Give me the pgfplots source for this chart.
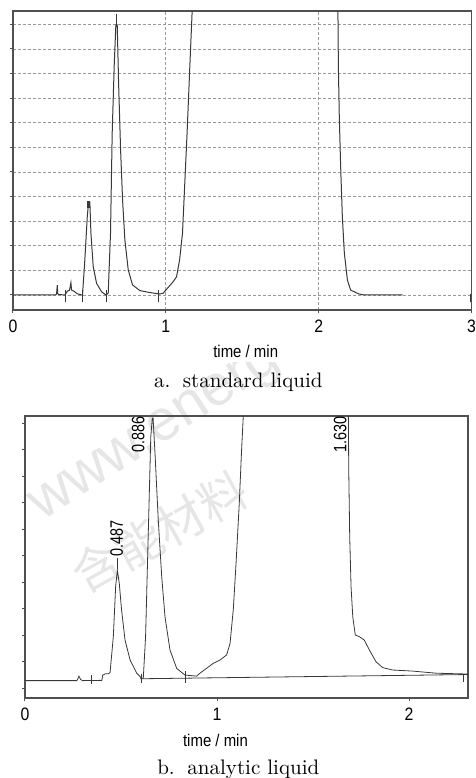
\documentclass[border=0pt]{standalone}
\usepackage{fontspec}
\usepackage{pgfplots}
\pgfplotsset{compat=1.18}

\newfontfamily\narrowsans[FakeStretch=0.88]{Liberation Sans}
\newfontfamily\peaksans[FakeStretch=0.8]{Liberation Sans}
\newfontfamily\wmsans{Liberation Sans}
\newfontfamily\wmcjk{Noto Sans CJK SC}

\definecolor{framec}{HTML}{505050}
\definecolor{trace}{HTML}{383838}
\definecolor{gridc}{HTML}{9A9A9A}
\definecolor{wm}{HTML}{E6E6E6}

\pgfplotsset{
  chrom/.style={
    scale only axis,
    anchor=north west,
    axis line style={framec, line width=0.6pt},
    tick style={framec, line width=0.5pt},
    major tick length=1.6pt,
    tick align=outside,
    xtick pos=bottom,
    ytick pos=left,
    yticklabels={},
    ticklabel style={font=\narrowsans\fontsize{9}{10}\selectfont},
    /pgf/number format/assume math mode=true,
    xlabel={time / min},
    label style={font=\narrowsans\fontsize{8.5}{10}\selectfont},
  },
}

\begin{document}
\begin{tikzpicture}
\useasboundingbox (0,0) rectangle (238pt,-389pt);

% watermark, only below the upper panel
\begin{scope}
\clip (0,-181pt) rectangle (238pt,-389pt);
\node[wm, rotate=33, anchor=base west, inner sep=0pt, font=\wmsans\fontsize{29}{31}\selectfont]
  at (21pt,-261pt) {www.energ};
\node[wm, rotate=29, anchor=center, inner sep=0pt, font=\wmcjk\fontsize{24}{26}\selectfont]
  at (80pt,-266pt) {含能材料};
\end{scope}

% a. standard liquid
\begin{axis}[chrom,
  at={(6.5pt,-5.5pt)},
  width=229.25pt, height=149.5pt,
  xmin=0, xmax=3, ymin=-0.61, ymax=11.54,
  xtick={0,1,2,3}, ytick={0,...,11},
  xmajorgrids, ymajorgrids,
  grid style={gridc, line width=0.4pt, dash pattern=on 1.5pt off 1pt},
  x label style={at={(axis description cs:0.5075,0)}, anchor=center, yshift=-20.85pt},
]
\addplot[trace, line width=0.5pt] coordinates {
  (0,0) (0.28,0) (0.285,0.05) (0.29,0.4) (0.293,0.05) (0.30,0.02) (0.34,0.0)
  (0.355,0.15) (0.37,0.2) (0.379,0.5) (0.383,0.2) (0.40,0.15) (0.42,0.05) (0.45,0.0)
  (0.455,0.02) (0.47,1.42) (0.486,3.18) (0.494,3.75) (0.503,3.75) (0.51,2.5)
  (0.525,1.15) (0.547,0.47) (0.58,0.13) (0.608,0.0) (0.623,0.07) (0.638,2.5)
  (0.649,6.57) (0.662,9.28) (0.673,10.98) (0.682,10.98) (0.691,8.6) (0.704,5.9)
  (0.717,3.86) (0.732,2.24) (0.754,1.02) (0.782,0.41) (0.83,0.18) (0.895,0.1)
  (0.96,0.04) (0.982,0.07) (1.048,0.54) (1.07,0.74) (1.09,1.42) (1.109,2.51)
  (1.124,4.54) (1.139,6.57) (1.157,9.28) (1.172,11.5) (1.19,14) (2.12,14)
  (2.126,11.55) (2.129,9.27) (2.135,7.24) (2.144,5.2) (2.155,3.17) (2.168,1.71)
  (2.188,0.61) (2.209,0.2) (2.264,0.04) (2.3,0) (2.55,0)
};
% peak apex markers and integration ticks
\addplot[trace, line width=1.2pt] coordinates {(0.494,3.55) (0.494,3.8)};
\addplot[trace, line width=0.4pt, unbounded coords=jump] coordinates {
  (0.678,10.9) (0.678,11.4) (0.678,nan)
  (0.344,0.2) (0.344,-0.27) (0.344,nan)
  (0.453,0.2) (0.453,-0.27) (0.453,nan)
  (0.612,0.2) (0.612,-0.27) (0.612,nan)
  (0.954,0.2) (0.954,-0.27) (0.954,nan)
  (2.99,0.05) (2.99,-0.3)
};
\end{axis}
\node[anchor=base, inner sep=0pt, font=\fontsize{10.5}{12}\selectfont]
  at (119.15pt,-193.85pt) {a.\hspace{0.6em}standard liquid};

% b. analytic liquid
\begin{axis}[chrom,
  at={(12.5pt,-208pt)},
  width=221.5pt, height=141pt,
  xmin=0, xmax=2.307, ymin=-0.366, ymax=10.275,
  xtick={0,1,2}, ytick={0,...,10},
  x label style={at={(axis description cs:0.43,0)}, anchor=center, yshift=-21pt},
]
\addplot[trace, line width=0.4pt] coordinates {
  (0,0.29) (0.27,0.29) (0.275,0.35) (0.281,0.46) (0.29,0.33) (0.30,0.29) (0.40,0.3)
  (0.405,0.5) (0.42,0.55) (0.435,0.55) (0.443,0.6) (0.46,1.95) (0.472,3.83)
  (0.481,4.46) (0.491,3.96) (0.503,2.95) (0.521,1.82) (0.547,1.07) (0.582,0.57)
  (0.608,0.38) (0.616,0.38) (0.628,1.95) (0.637,4.46) (0.646,6.97) (0.655,9.48)
  (0.663,10.2) (0.667,10.2) (0.677,8.87) (0.694,6.35) (0.712,4.21) (0.729,2.7)
  (0.755,1.45) (0.79,0.75) (0.833,0.5) (0.894,0.46) (0.911,0.57) (0.98,0.94)
  (1.016,1.07) (1.05,1.26) (1.068,1.7) (1.085,3.0) (1.099,4.7) (1.116,7.0)
  (1.128,9.0) (1.137,10.3) (1.145,13) (1.68,13) (1.684,10.3) (1.686,8.24)
  (1.691,5.72) (1.698,3.83) (1.707,2.7) (1.72,2.01) (1.741,1.95) (1.767,1.82)
  (1.793,1.45) (1.828,1.0) (1.863,0.78) (1.915,0.69) (2.019,0.65) (2.141,0.57)
  (2.297,0.54) (2.307,0.54)
};
% straight integration baseline
\addplot[trace, line width=0.4pt] coordinates {(0.60,0.36) (2.307,0.52)};
\addplot[trace, line width=0.4pt, unbounded coords=jump] coordinates {
  (0.481,4.5) (0.481,4.9) (0.481,nan)
  (0.344,0.5) (0.344,0.15) (0.344,nan)
  (0.608,0.55) (0.608,0.2) (0.608,nan)
  (0.837,0.65) (0.837,0.2) (0.837,nan)
  (2.285,0.54) (2.285,0.25)
};
\node[rotate=90, anchor=west, inner sep=0pt, font=\peaksans\fontsize{9}{10}\selectfont]
  at (axis cs:0.4776,4.95) {0.487};
\node[rotate=90, anchor=west, inner sep=0pt, font=\peaksans\fontsize{9}{10}\selectfont]
  at (axis cs:0.590,8.88) {0.886};
\node[rotate=90, anchor=west, inner sep=0pt, font=\peaksans\fontsize{9}{10}\selectfont]
  at (axis cs:1.641,8.87) {1.630};
\end{axis}
\node[anchor=base, inner sep=0pt, font=\fontsize{10.5}{12}\selectfont]
  at (119.15pt,-387.15pt) {b.\hspace{0.6em}analytic liquid};
\end{tikzpicture}
\end{document}
